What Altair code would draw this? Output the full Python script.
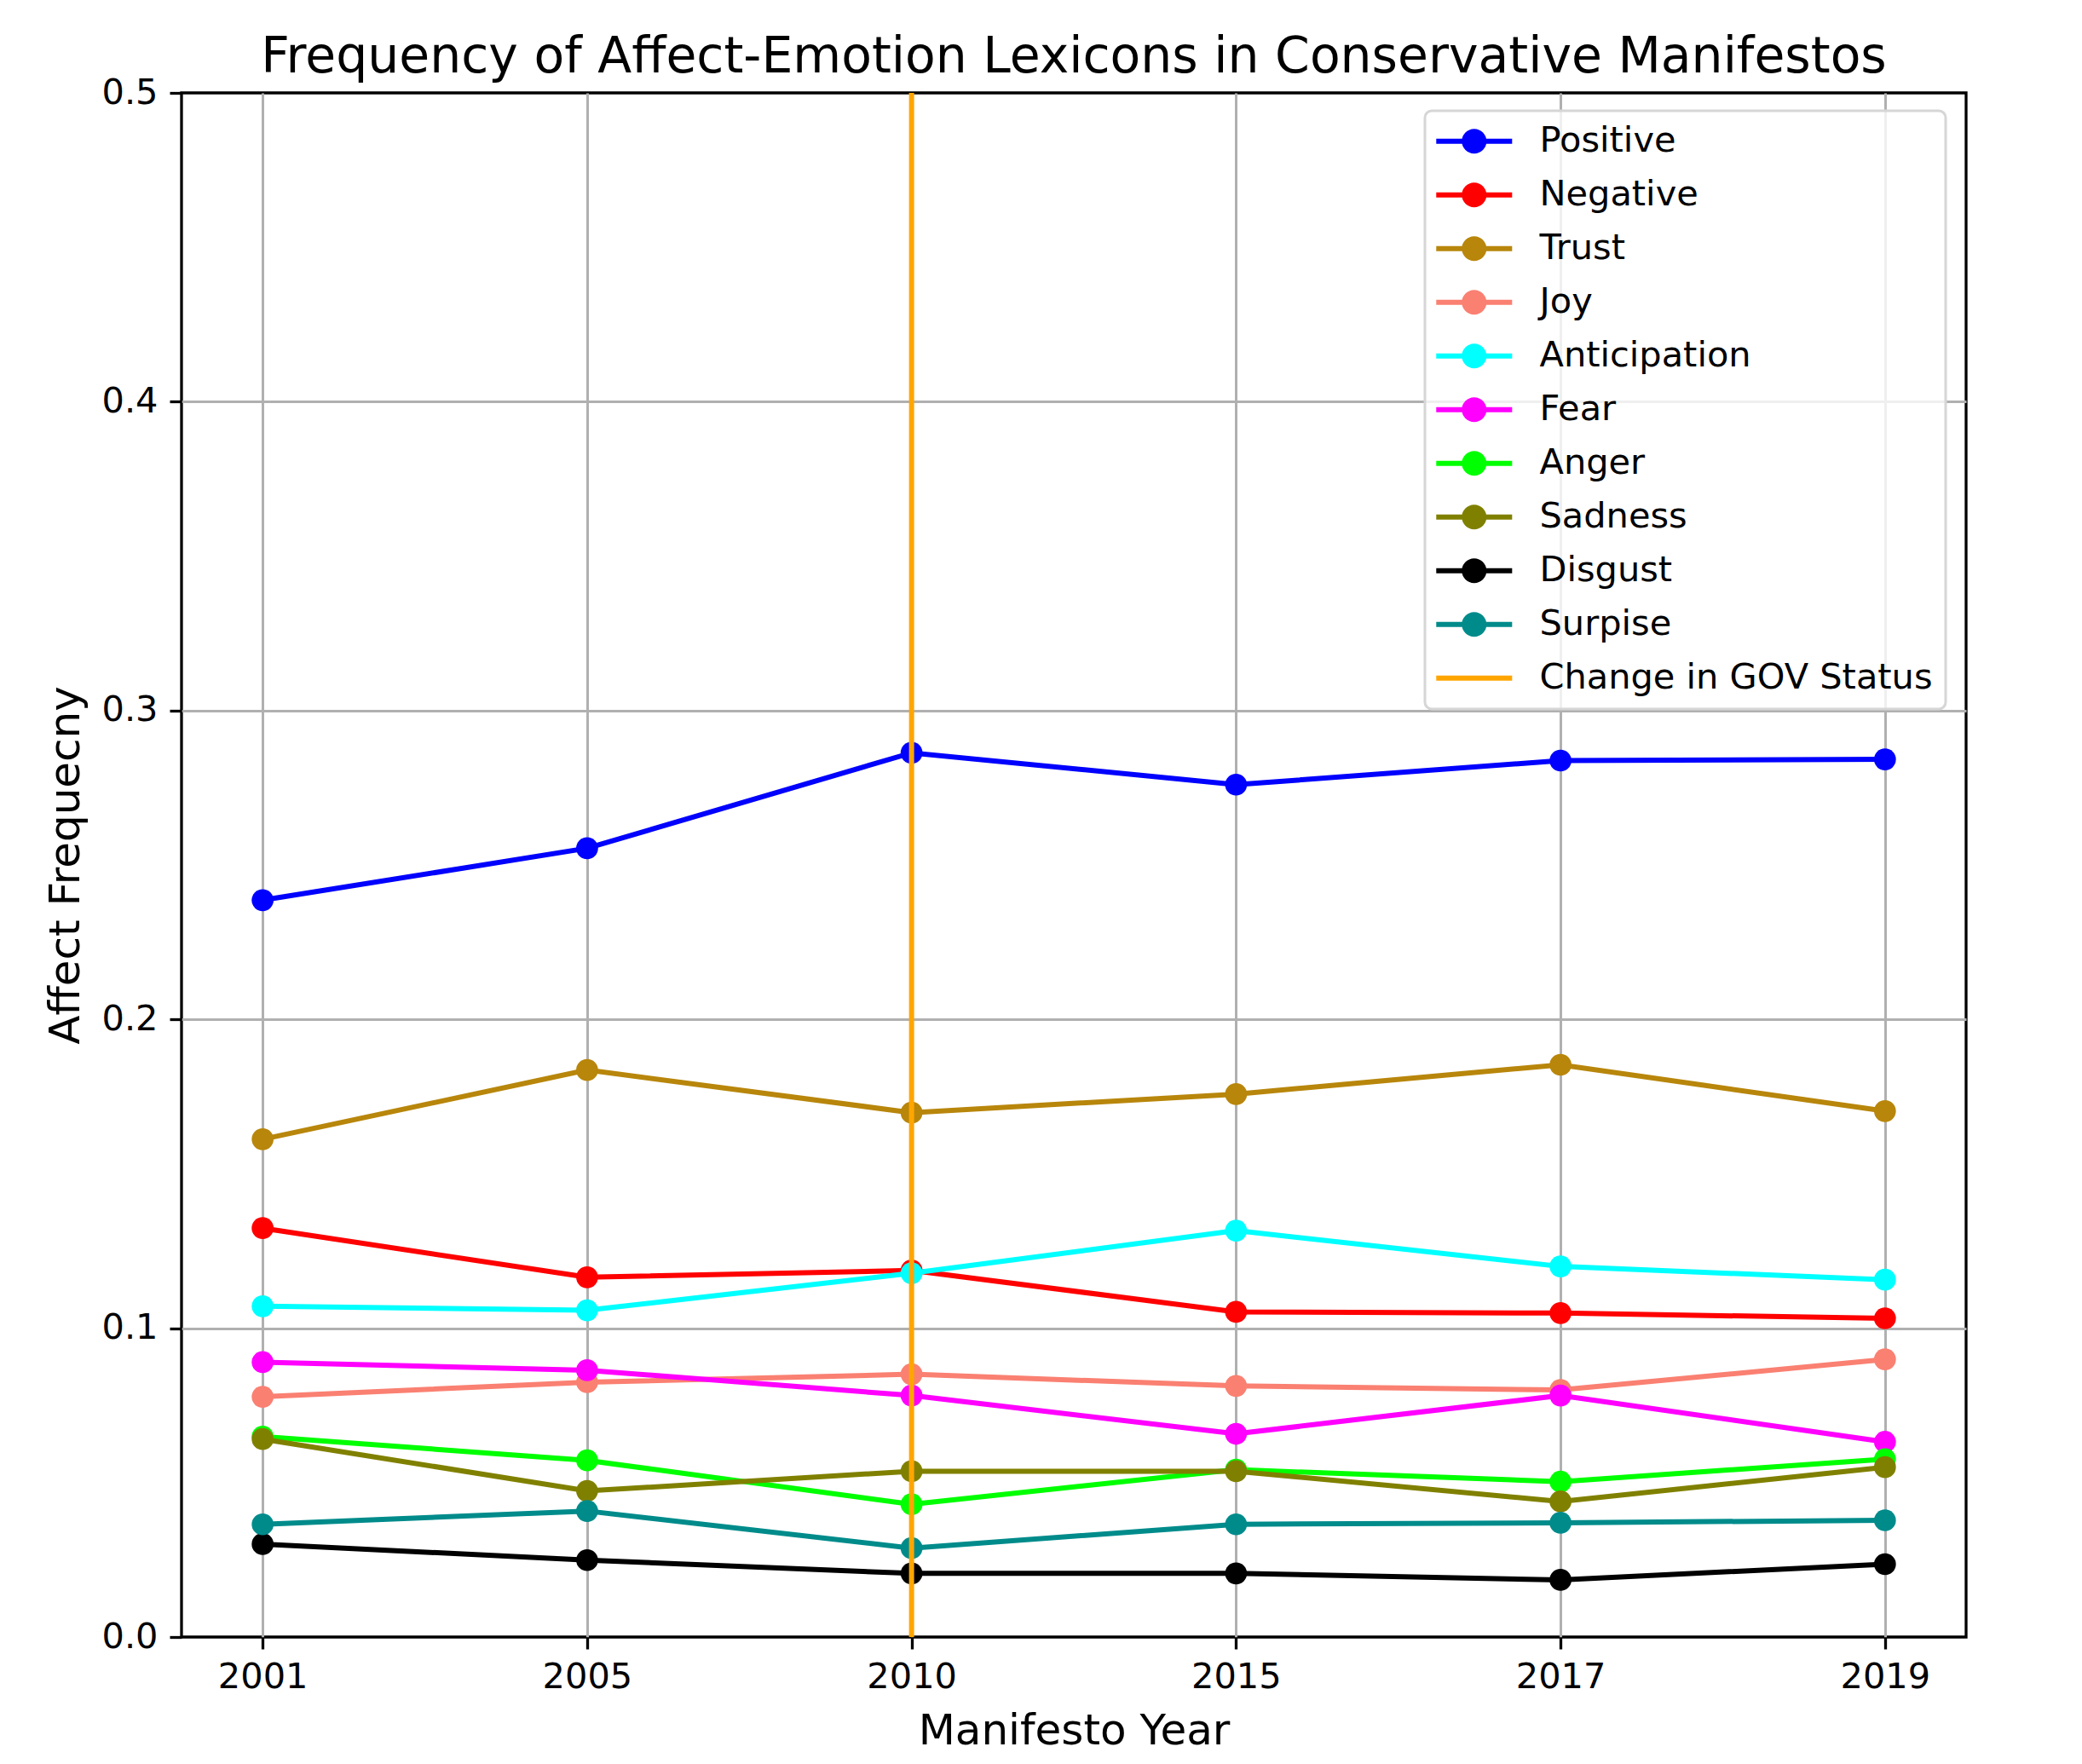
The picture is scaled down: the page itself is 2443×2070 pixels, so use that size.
import altair as alt
import pandas as pd

# ---------------- data ----------------
years = ["2001", "2005", "2010", "2015", "2017", "2019"]
series_names = ["Positive", "Negative", "Trust", "Joy", "Anticipation",
                "Fear", "Anger", "Sadness", "Disgust", "Surpise"]
positive = [0.2386, 0.2554, 0.2863, 0.2760, 0.2838, 0.2842]
negative = [0.1324, 0.1165, 0.1187, 0.1053, 0.1049, 0.1032]
trust = [0.1612, 0.1836, 0.1698, 0.1758, 0.1853, 0.1703]
joy = [0.0778, 0.0825, 0.0851, 0.0813, 0.0800, 0.0899]
anticipation = [0.1071, 0.1058, 0.1178, 0.1316, 0.1200, 0.1157]
fear = [0.0890, 0.0864, 0.0782, 0.0658, 0.0782, 0.0632]
anger = [0.0649, 0.0572, 0.0430, 0.0542, 0.0503, 0.0576]
sadness = [0.0641, 0.0473, 0.0537, 0.0537, 0.0439, 0.0550]
disgust = [0.0301, 0.0249, 0.0206, 0.0206, 0.0185, 0.0236]
surprise = [0.0365, 0.0408, 0.0288, 0.0365, 0.0370, 0.0378]
gov_change_year = "2010"
gov_label = "Change in GOV Status"
y_ticks = [0.0, 0.1, 0.2, 0.3, 0.4, 0.5]
colors = ["#0000FF", "#FF0000", "#B8860B", "#FA8072", "#00FFFF",
          "#FF00FF", "#00FF00", "#808000", "#000000", "#008B8B", "#FFA500"]

values = [positive, negative, trust, joy, anticipation,
          fear, anger, sadness, disgust, surprise]

rows = []
for name, vals in zip(series_names, values):
    for i, (yr, v) in enumerate(zip(years, vals)):
        rows.append({"series": name, "year": yr, "idx": i, "value": v})
df = pd.DataFrame(rows)
gov_df = pd.DataFrame({"year": [gov_change_year], "series": [gov_label]})

FONT = "DejaVu Sans"
W, H = 2094, 1812

# legend handle glyphs (line with marker / plain line)
LINE_CIRCLE = ("M-1.55,-0.207 L4.59,-0.207 L4.59,0.207 L-1.55,0.207 Z "
               "M0.52,0 A1,1 0 0,1 2.52,0 A1,1 0 0,1 0.52,0 Z")
LINE_ONLY = "M-1.55,-0.207 L4.59,-0.207 L4.59,0.207 L-1.55,0.207 Z"
all_names = series_names + [gov_label]
handle_shapes = [LINE_CIRCLE] * len(series_names) + [LINE_ONLY]


def build(use_sw):
    legend = alt.Legend(
        title=None, orient="none", legendX=1459, legendY=21,
        symbolSize=841, symbolStrokeWidth=0,
        labelFontSize=41.5, labelFont=FONT, labelColor="black",
        labelOffset=78, padding=15, rowPadding=20,
        fillColor="rgba(255,255,255,0.8)", strokeColor="#d6d6d6",
        cornerRadius=8, labelLimit=2000,
    )
    color = alt.Color("series:N",
                      scale=alt.Scale(domain=all_names, range=colors),
                      legend=legend)
    shape = alt.Shape("series:N",
                      scale=alt.Scale(domain=all_names, range=handle_shapes),
                      legend=legend)
    x = alt.X("year:N", sort=years,
              scale=alt.Scale(type="point", padding=0.25),
              axis=alt.Axis(title="Manifesto Year", labelAngle=0, labelPadding=12,
                            titleY=125, titleBaseline="alphabetic",
                            titleAnchor="middle"))
    y = alt.Y("value:Q",
              scale=alt.Scale(domain=[0, 0.5], nice=False, zero=True),
              axis=alt.Axis(title="Affect Frequecny", values=y_ticks, format=".1f",
                            labelPadding=14, titleX=-121, titleBaseline="alphabetic",
                            titleAngle=-90,
                            gridOpacity=alt.condition(
                                "datum.value <= 0.0001 || datum.value >= 0.4999",
                                alt.value(0), alt.value(1))))

    base = alt.Chart(df)
    layers = []
    for name in series_names:
        sub = base.transform_filter(alt.datum.series == name)
        layers.append(sub.mark_line(strokeWidth=6).encode(
            x=x, y=y, color=color, order=alt.Order("idx:Q")))
        layers.append(sub.mark_point(filled=True, size=660, opacity=1,
                                     shape="circle").encode(x=x, y=y, color=color))
    rule = alt.Chart(gov_df).mark_rule(strokeWidth=6).encode(x=x, color=color)
    layers.append(rule)
    # zero-size points that only carry the legend handle shapes
    handles = base.mark_point(filled=True, opacity=1).encode(
        x=x, y=y, color=color, shape=shape, size=alt.value(0))
    layers.append(handles)

    chart = alt.layer(*layers).properties(
        width=W, height=H,
        title=alt.TitleParams(text="Frequency of Affect-Emotion Lexicons in Conservative Manifestos",
                              fontSize=58.4, font=FONT, fontWeight="normal", color="black",
                              anchor="middle", frame="group", offset=14, dy=23),
        padding={"left": 205, "top": 101, "right": 128, "bottom": 141},
        autosize=alt.AutoSizeParams(type="none"),
        background="white",
    ).configure_view(
        stroke="black", strokeWidth=3.3, fill="white"
    ).configure_axis(
        labelFont=FONT, labelFontSize=41.5, labelColor="black",
        titleFont=FONT, titleFontSize=50, titleFontWeight="normal", titleColor="black",
        tickSize=14, tickWidth=3.3, tickColor="black",
        domain=False, grid=True, gridColor="#b0b0b0", gridWidth=3,
    )
    if use_sw:
        chart = chart.configure_legend(strokeWidth=3)
    return chart


chart = None
for flag in [True, False]:
    try:
        c = build(flag)
        c.to_dict()
        chart = c
        break
    except Exception:
        continue

chart.save("out.html", embed_options={"renderer": "svg", "actions": False})
